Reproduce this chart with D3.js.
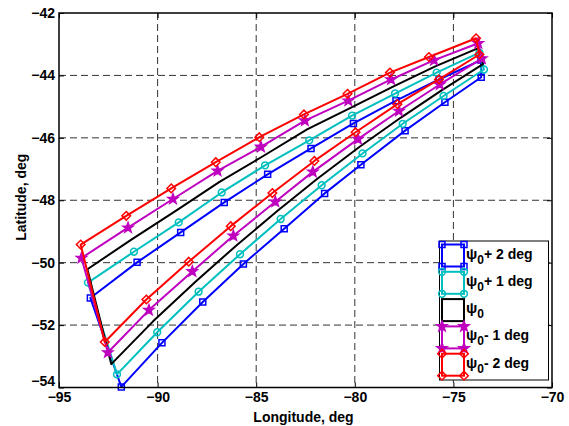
<!DOCTYPE html>
<html>
<head>
<meta charset="utf-8">
<script src="https://cdn.jsdelivr.net/npm/d3@7"></script>
<style>
  html, body { margin: 0; padding: 0; background: #fff; }
  svg { display: block; }
  text { font-family: "Liberation Sans", Arial, sans-serif; font-weight: bold; fill: #000; }
</style>
</head>
<body>
<svg id="chart" width="569" height="426"></svg>
<script>
// Ground-track envelopes for five heading offsets: each closed loop is an
// upper branch (west to east) and a lower branch (west to east), [lon, lat].
const psiPlus2Upper = [[-93.41,-51.13],[-91.04,-49.99],[-88.83,-49.03],[-86.62,-48.07],[-84.42,-47.17],[-82.22,-46.34],[-80.07,-45.54],[-77.91,-44.81],[-75.73,-44.13],[-73.60,-43.51]];
const psiPlus2Lower = [[-91.84,-53.98],[-89.78,-52.57],[-87.71,-51.26],[-85.65,-50.04],[-83.58,-48.91],[-81.53,-47.78],[-79.69,-46.86],[-77.45,-45.77],[-75.43,-44.86],[-73.59,-44.06]];

const psiPlus1Upper = [[-93.53,-50.64],[-91.20,-49.65],[-88.93,-48.71],[-86.75,-47.75],[-84.55,-46.88],[-82.31,-46.08],[-80.14,-45.29],[-77.96,-44.58],[-75.85,-43.91],[-73.68,-43.27]];
const psiPlus1Lower = [[-92.06,-53.58],[-90.02,-52.23],[-87.92,-50.93],[-85.82,-49.73],[-83.76,-48.60],[-81.68,-47.52],[-79.61,-46.50],[-77.57,-45.55],[-75.50,-44.66],[-73.45,-43.81]];

const psi0Upper = [[-93.56,-50.21],[-91.35,-49.27],[-89.08,-48.34],[-86.86,-47.41],[-84.66,-46.59],[-82.42,-45.73],[-80.24,-45.05],[-78.06,-44.36],[-75.92,-43.71],[-73.71,-43.12]];
const psi0Lower = [[-92.35,-53.25],[-90.23,-51.88],[-88.08,-50.61],[-85.99,-49.44],[-83.90,-48.33],[-81.90,-47.31],[-79.72,-46.27],[-77.66,-45.35],[-75.60,-44.48],[-73.50,-43.64]];

const psiMinus1Upper = [[-93.86,-49.85],[-91.50,-48.88],[-89.22,-47.96],[-86.96,-47.06],[-84.76,-46.29],[-82.53,-45.45],[-80.33,-44.81],[-78.16,-44.13],[-75.98,-43.51],[-73.74,-42.97]];
const psiMinus1Lower = [[-92.52,-52.88],[-90.44,-51.52],[-88.24,-50.28],[-86.16,-49.14],[-84.03,-48.05],[-82.13,-47.09],[-79.84,-46.04],[-77.76,-45.14],[-75.69,-44.29],[-73.56,-43.46]];

const psiMinus2Upper = [[-93.90,-49.42],[-91.59,-48.50],[-89.31,-47.62],[-87.05,-46.78],[-84.84,-45.98],[-82.58,-45.25],[-80.37,-44.59],[-78.22,-43.91],[-76.24,-43.41],[-73.85,-42.81]];
const psiMinus2Lower = [[-92.68,-52.54],[-90.57,-51.18],[-88.42,-49.97],[-86.29,-48.83],[-84.18,-47.77],[-82.05,-46.74],[-79.96,-45.82],[-77.84,-44.92],[-75.73,-44.13],[-73.68,-43.33]];

const legendSuffixes = ["+ 2 deg", "+ 1 deg", "", "- 1 deg", "- 2 deg"];
const seriesColors = ["#0000ff", "#00bfbf", "#000000", "#bf00bf", "#ff0000"];
const seriesMarkers = ["square", "circle", "none", "star", "diamond"];

const xTicks = [-95, -90, -85, -80, -75, -70];
const yTicks = [-54, -52, -50, -48, -46, -44, -42];

const series = [
  { upper: psiPlus2Upper, lower: psiPlus2Lower },
  { upper: psiPlus1Upper, lower: psiPlus1Lower },
  { upper: psi0Upper, lower: psi0Lower },
  { upper: psiMinus1Upper, lower: psiMinus1Lower },
  { upper: psiMinus2Upper, lower: psiMinus2Lower }
].map((s, i) => ({
  ...s,
  color: seriesColors[i],
  marker: seriesMarkers[i],
  suffix: legendSuffixes[i],
  loop: s.upper.concat(s.lower.slice().reverse())
}));

const plot = { left: 59, right: 552, top: 13, bottom: 387.5 };
const x = d3.scaleLinear().domain([-95, -70]).range([plot.left, plot.right]);
const y = d3.scaleLinear().domain([-54, -42]).range([plot.bottom, plot.top]);

const svg = d3.select("#chart");

// dashed grid
const grid = svg.append("g").attr("stroke", "#333").attr("stroke-width", 1)
  .attr("stroke-dasharray", "7,4").attr("fill", "none");
grid.selectAll("line.vx").data(xTicks.slice(1, -1)).join("line")
  .attr("x1", d => x(d)).attr("x2", d => x(d))
  .attr("y1", plot.top).attr("y2", plot.bottom);
grid.selectAll("line.hy").data(yTicks.slice(1, -1)).join("line")
  .attr("y1", d => y(d)).attr("y2", d => y(d))
  .attr("x1", plot.left).attr("x2", plot.right);

function markerPath(type) {
  const p = d3.path();
  if (type === "square") {
    const r = 3;
    p.rect(-r, -r, 2 * r, 2 * r);
  } else if (type === "circle") {
    p.arc(0, 0, 3.4, 0, 2 * Math.PI);
  } else if (type === "diamond") {
    const r = 4.3;
    p.moveTo(0, -r); p.lineTo(r, 0); p.lineTo(0, r); p.lineTo(-r, 0); p.closePath();
  } else if (type === "star") {
    const ro = 5.3, ri = 2.2;
    for (let k = 0; k < 10; k++) {
      const a = -Math.PI / 2 + k * Math.PI / 5;
      const rr = k % 2 === 0 ? ro : ri;
      const px = rr * Math.cos(a), py = rr * Math.sin(a);
      if (k === 0) p.moveTo(px, py); else p.lineTo(px, py);
    }
    p.closePath();
  }
  return p.toString();
}

const line = d3.line().x(d => x(d[0])).y(d => y(d[1])).curve(d3.curveLinearClosed);

const curves = svg.append("g");
series.forEach(s => {
  const g = curves.append("g");
  g.append("path").attr("d", line(s.loop))
    .attr("fill", "none").attr("stroke", s.color)
    .attr("stroke-width", 2).attr("stroke-linejoin", "round");
  if (s.marker !== "none") {
    g.selectAll("path.m").data(s.loop).join("path")
      .attr("class", "m")
      .attr("transform", d => `translate(${x(d[0])},${y(d[1])})`)
      .attr("d", markerPath(s.marker))
      .attr("fill", s.marker === "star" ? s.color : "none")
      .attr("stroke", s.color).attr("stroke-width", 1.5);
  }
});

// axes with inward ticks on all four sides
const axisFont = g => g.selectAll("text").style("font-size", "14px")
  .style("font-family", '"Liberation Sans", Arial, sans-serif').style("font-weight", "bold");

const xAxis = svg.append("g").attr("transform", `translate(0,${plot.bottom})`)
  .call(d3.axisBottom(x).tickValues(xTicks).tickFormat(d3.format("d"))
    .tickSizeInner(-5).tickSizeOuter(0).tickPadding(5));
xAxis.call(axisFont);
xAxis.select(".domain").remove();

const yAxis = svg.append("g").attr("transform", `translate(${plot.left},0)`)
  .call(d3.axisLeft(y).tickValues(yTicks).tickFormat(d3.format("d"))
    .tickSizeInner(-5).tickSizeOuter(0).tickPadding(4));
yAxis.call(axisFont);
yAxis.select(".domain").remove();
// lowest latitude label sits just above the longitude labels
yAxis.selectAll(".tick text").filter(d => d === -54).attr("y", -6);

svg.append("g").attr("transform", `translate(0,${plot.top})`)
  .call(d3.axisTop(x).tickValues(xTicks).tickFormat("").tickSizeInner(-5).tickSizeOuter(0))
  .select(".domain").remove();
svg.append("g").attr("transform", `translate(${plot.right},0)`)
  .call(d3.axisRight(y).tickValues(yTicks).tickFormat("").tickSizeInner(-5).tickSizeOuter(0))
  .select(".domain").remove();

svg.selectAll(".tick line").attr("stroke", "#000").attr("stroke-width", 1);

svg.append("rect")
  .attr("x", plot.left).attr("y", plot.top)
  .attr("width", plot.right - plot.left).attr("height", plot.bottom - plot.top)
  .attr("fill", "none").attr("stroke", "#000").attr("stroke-width", 1.5);

// axis titles
svg.append("text").attr("x", (plot.left + plot.right) / 2 - 2).attr("y", 422)
  .attr("text-anchor", "middle").style("font-size", "14px").text("Longitude, deg");
svg.append("text")
  .attr("transform", `translate(26,${(plot.top + plot.bottom) / 2 - 3}) rotate(-90)`)
  .attr("text-anchor", "middle").style("font-size", "14px").text("Latitude, deg");

// legend
const leg = { x: 439.5, y: 241, w: 109, h: 139 };
const legend = svg.append("g");
legend.append("rect").attr("x", leg.x).attr("y", leg.y).attr("width", leg.w).attr("height", leg.h)
  .attr("fill", "#fff").attr("stroke", "#000").attr("stroke-width", 1);

series.forEach((s, i) => {
  const top = 244.5 + i * 27.3;
  const ix0 = 442, ix1 = 464, iy0 = top, iy1 = top + 22;
  const item = legend.append("g");
  item.append("rect").attr("x", ix0).attr("y", iy0).attr("width", ix1 - ix0).attr("height", iy1 - iy0)
    .attr("fill", "none").attr("stroke", s.color).attr("stroke-width", 2);
  if (s.marker !== "none") {
    [[ix0, iy0], [ix1, iy0], [ix1, iy1], [ix0, iy1]].forEach(c => {
      item.append("path").attr("transform", `translate(${c[0]},${c[1]})`)
        .attr("d", markerPath(s.marker))
        .attr("fill", s.marker === "star" ? s.color : "none")
        .attr("stroke", s.color).attr("stroke-width", 1.5);
    });
  }
  const t = item.append("text").attr("x", 466).attr("y", top + 14).style("font-size", "15px");
  t.append("tspan").text("ψ");
  t.append("tspan").attr("dy", 5).style("font-size", "12px").text("0");
  if (s.suffix) t.append("tspan").attr("dy", -5).style("font-size", "14px").text(s.suffix);
});
</script>
</body>
</html>
